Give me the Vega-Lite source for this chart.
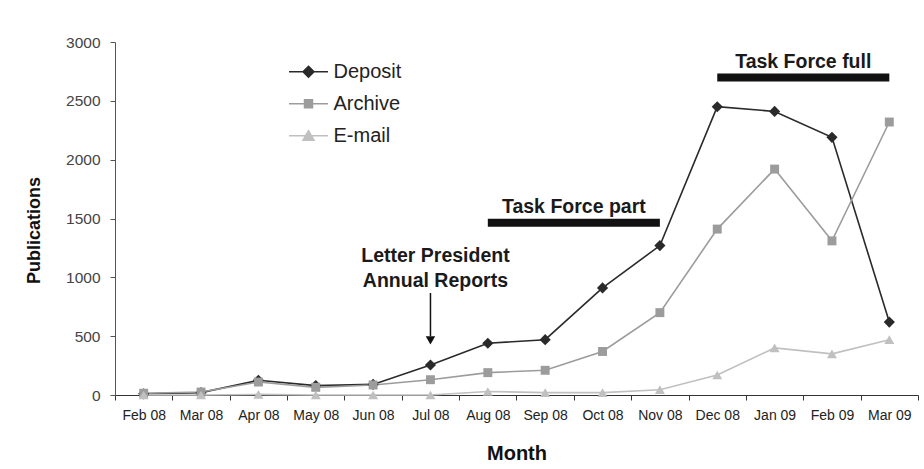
{
  "$schema": "https://vega.github.io/schema/vega-lite/v6.json",
  "width": 803,
  "height": 353,
  "autosize": {"type": "none"},
  "padding": {"left": 115, "top": 42, "right": 6, "bottom": 74},
  "background": "white",
  "config": {
    "view": {"stroke": null},
    "font": "Liberation Sans",
    "axisX": {
      "labelAngle": 0,
      "labelOverlap": false,
      "tickBand": "extent",
      "tickSize": 5,
      "tickColor": "#333",
      "domainColor": "#333",
      "labelFontSize": 14,
      "labelColor": "#222",
      "labelPadding": 8,
      "titleFontSize": 20,
      "titleFontWeight": "bold",
      "titleColor": "#111",
      "titleBaseline": "alphabetic",
      "titleY": 64
    },
    "axisY": {
      "grid": false,
      "format": "d",
      "tickSize": 5,
      "tickColor": "#555",
      "domainColor": "#555",
      "labelFontSize": 15.5,
      "labelColor": "#444",
      "labelPadding": 10,
      "titleFontSize": 18,
      "titleFontWeight": "bold",
      "titleColor": "#111",
      "titleX": -72,
      "titleY": 188
    }
  },
  "datasets": {
    "series": [
      {"month": "Feb 08", "series": "Deposit", "value": 10},
      {"month": "Mar 08", "series": "Deposit", "value": 20},
      {"month": "Apr 08", "series": "Deposit", "value": 125},
      {"month": "May 08", "series": "Deposit", "value": 80},
      {"month": "Jun 08", "series": "Deposit", "value": 90},
      {"month": "Jul 08", "series": "Deposit", "value": 255},
      {"month": "Aug 08", "series": "Deposit", "value": 440},
      {"month": "Sep 08", "series": "Deposit", "value": 470},
      {"month": "Oct 08", "series": "Deposit", "value": 910},
      {"month": "Nov 08", "series": "Deposit", "value": 1270},
      {"month": "Dec 08", "series": "Deposit", "value": 2450},
      {"month": "Jan 09", "series": "Deposit", "value": 2410},
      {"month": "Feb 09", "series": "Deposit", "value": 2190},
      {"month": "Mar 09", "series": "Deposit", "value": 620},
      {"month": "Feb 08", "series": "Archive", "value": 15},
      {"month": "Mar 08", "series": "Archive", "value": 25},
      {"month": "Apr 08", "series": "Archive", "value": 110},
      {"month": "May 08", "series": "Archive", "value": 65},
      {"month": "Jun 08", "series": "Archive", "value": 85},
      {"month": "Jul 08", "series": "Archive", "value": 130},
      {"month": "Aug 08", "series": "Archive", "value": 190},
      {"month": "Sep 08", "series": "Archive", "value": 210},
      {"month": "Oct 08", "series": "Archive", "value": 370},
      {"month": "Nov 08", "series": "Archive", "value": 700},
      {"month": "Dec 08", "series": "Archive", "value": 1410},
      {"month": "Jan 09", "series": "Archive", "value": 1920},
      {"month": "Feb 09", "series": "Archive", "value": 1310},
      {"month": "Mar 09", "series": "Archive", "value": 2320},
      {"month": "Feb 08", "series": "E-mail", "value": 0},
      {"month": "Mar 08", "series": "E-mail", "value": 0},
      {"month": "Apr 08", "series": "E-mail", "value": 5},
      {"month": "May 08", "series": "E-mail", "value": 0},
      {"month": "Jun 08", "series": "E-mail", "value": 0},
      {"month": "Jul 08", "series": "E-mail", "value": 0},
      {"month": "Aug 08", "series": "E-mail", "value": 30},
      {"month": "Sep 08", "series": "E-mail", "value": 20},
      {"month": "Oct 08", "series": "E-mail", "value": 20},
      {"month": "Nov 08", "series": "E-mail", "value": 45},
      {"month": "Dec 08", "series": "E-mail", "value": 170},
      {"month": "Jan 09", "series": "E-mail", "value": 400},
      {"month": "Feb 09", "series": "E-mail", "value": 350},
      {"month": "Mar 09", "series": "E-mail", "value": 470}
    ],
    "bars": [
      {"month": "Aug 08", "month2": "Nov 08", "value": 1464},
      {"month": "Dec 08", "month2": "Mar 09", "value": 2698}
    ],
    "barText": [
      {"month": "Sep 08", "value": 1547, "label": "Task Force part"},
      {"month": "Jan 09", "value": 2777, "label": "Task Force full"}
    ],
    "letter": [
      {"month": "Jul 08", "value": 1130, "label": "Letter President"},
      {"month": "Jul 08", "value": 918, "label": "Annual Reports"}
    ],
    "arrow": [
      {"month": "Jul 08", "value": 867, "value2": 500, "tip": 465}
    ]
  },
  "layer": [
    {
      "data": {"name": "series"},
      "mark": {"type": "line", "strokeWidth": 1.6},
      "encoding": {
        "x": {
          "field": "month",
          "type": "nominal",
          "title": "Month",
          "scale": {
            "type": "band",
            "paddingInner": 0,
            "paddingOuter": 0,
            "domain": ["Feb 08", "Mar 08", "Apr 08", "May 08", "Jun 08", "Jul 08", "Aug 08", "Sep 08", "Oct 08", "Nov 08", "Dec 08", "Jan 09", "Feb 09", "Mar 09"]
          }
        },
        "y": {
          "field": "value",
          "type": "quantitative",
          "title": "Publications",
          "scale": {"domain": [0, 3000], "nice": false},
          "axis": {"values": [0, 500, 1000, 1500, 2000, 2500, 3000]}
        },
        "color": {
          "field": "series",
          "type": "nominal",
          "scale": {"domain": ["Deposit", "Archive", "E-mail"], "range": ["#2a2a2a", "#9c9c9c", "#c0c0c0"]}
        }
      }
    },
    {
      "data": {"name": "series"},
      "transform": [{"filter": {"field": "series", "equal": "Deposit"}}],
      "mark": {"type": "point", "shape": "diamond", "filled": true, "opacity": 1, "size": 125},
      "encoding": {
        "x": {"field": "month", "type": "nominal", "title": "Month"},
        "y": {"field": "value", "type": "quantitative", "title": "Publications"},
        "color": {"field": "series", "type": "nominal"}
      }
    },
    {
      "data": {"name": "series"},
      "transform": [{"filter": {"field": "series", "equal": "Archive"}}],
      "mark": {"type": "point", "shape": "square", "filled": true, "opacity": 1, "size": 80},
      "encoding": {
        "x": {"field": "month", "type": "nominal", "title": "Month"},
        "y": {"field": "value", "type": "quantitative", "title": "Publications"},
        "color": {"field": "series", "type": "nominal"}
      }
    },
    {
      "data": {"name": "series"},
      "transform": [{"filter": {"field": "series", "equal": "E-mail"}}],
      "mark": {"type": "point", "shape": "triangle-up", "filled": true, "opacity": 1, "size": 100},
      "encoding": {
        "x": {"field": "month", "type": "nominal", "title": "Month"},
        "y": {"field": "value", "type": "quantitative", "title": "Publications"},
        "color": {"field": "series", "type": "nominal"}
      }
    },
    {
      "data": {"name": "series"},
      "transform": [{"filter": {"field": "value", "lt": -1}}],
      "mark": {"type": "point", "filled": true, "opacity": 1, "strokeWidth": 1.5},
      "encoding": {
        "x": {"field": "month", "type": "nominal", "title": "Month"},
        "y": {"field": "value", "type": "quantitative", "title": "Publications"},
        "color": {
          "field": "series",
          "type": "nominal",
          "legend": {
            "title": null,
            "orient": "none",
            "legendX": 182.5,
            "legendY": 18.7,
            "padding": 0,
            "symbolSize": 400,
            "symbolStrokeWidth": 1.5,
            "labelOffset": 14,
            "rowPadding": 11,
            "labelFontSize": 20,
            "labelColor": "#222",
            "labelFont": "Liberation Sans"
          }
        },
        "stroke": {
          "field": "series",
          "type": "nominal",
          "scale": {"domain": ["Deposit", "Archive", "E-mail"], "range": ["#2a2a2a", "#9c9c9c", "#c0c0c0"]}
        },
        "shape": {
          "field": "series",
          "type": "nominal",
          "scale": {
            "domain": ["Deposit", "Archive", "E-mail"],
            "range": [
              "M-1.95,0H1.95M0,-0.55L0.55,0L0,0.55L-0.55,0Z",
              "M-1.95,0H1.95M-0.4,-0.4H0.4V0.4H-0.4Z",
              "M-1.95,0H1.95M0,-0.5L0.55,0.45L-0.55,0.45Z"
            ]
          }
        }
      }
    },
    {
      "data": {"name": "bars"},
      "mark": {"type": "rule", "strokeWidth": 8, "color": "#111", "strokeCap": "butt"},
      "encoding": {
        "x": {"field": "month", "type": "nominal", "bandPosition": 0.5, "title": "Month"},
        "x2": {"field": "month2", "bandPosition": 0.5},
        "y": {"field": "value", "type": "quantitative", "title": "Publications"}
      }
    },
    {
      "data": {"name": "barText"},
      "mark": {"type": "text", "fontSize": 19.5, "fontWeight": "bold", "color": "#1a1a1a", "align": "center", "baseline": "alphabetic"},
      "encoding": {
        "x": {"field": "month", "type": "nominal", "bandPosition": 1, "title": "Month"},
        "y": {"field": "value", "type": "quantitative", "title": "Publications"},
        "text": {"field": "label"}
      }
    },
    {
      "data": {"name": "letter"},
      "mark": {"type": "text", "fontSize": 19.5, "fontWeight": "bold", "color": "#1a1a1a", "align": "center", "baseline": "alphabetic", "dx": 5},
      "encoding": {
        "x": {"field": "month", "type": "nominal", "bandPosition": 0.5, "title": "Month"},
        "y": {"field": "value", "type": "quantitative", "title": "Publications"},
        "text": {"field": "label"}
      }
    },
    {
      "data": {"name": "arrow"},
      "mark": {"type": "rule", "strokeWidth": 1.5, "color": "#111"},
      "encoding": {
        "x": {"field": "month", "type": "nominal", "bandPosition": 0.5, "title": "Month"},
        "y": {"field": "value", "type": "quantitative", "title": "Publications"},
        "y2": {"field": "value2"}
      }
    },
    {
      "data": {"name": "arrow"},
      "mark": {"type": "point", "shape": "triangle-down", "filled": true, "color": "#111", "size": 90, "opacity": 1},
      "encoding": {
        "x": {"field": "month", "type": "nominal", "bandPosition": 0.5, "title": "Month"},
        "y": {"field": "tip", "type": "quantitative", "title": "Publications"}
      }
    }
  ]
}
